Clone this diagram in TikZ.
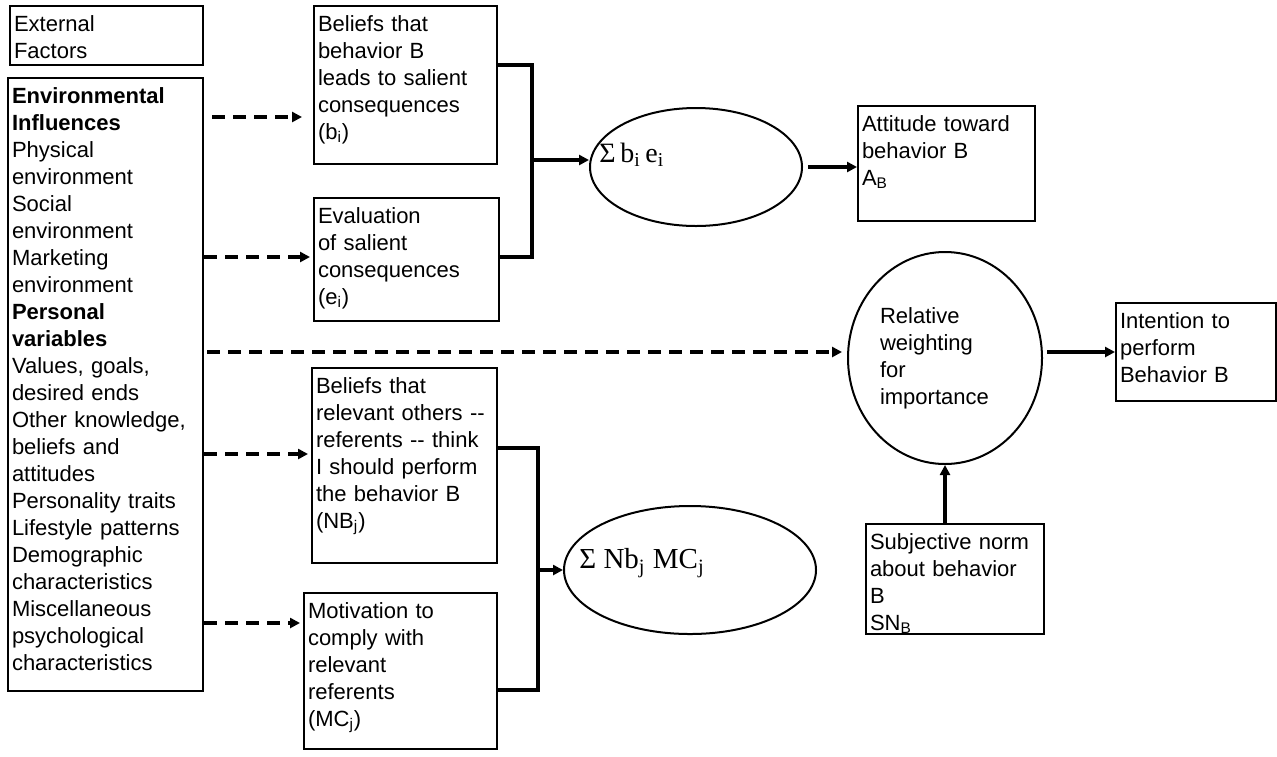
\documentclass[tikz,border=0pt]{standalone}
\usepackage{fontspec}
\setmainfont{Liberation Sans}
\newfontfamily\sumfont{Liberation Serif}
\usetikzlibrary{positioning, arrows.meta, shapes.geometric}

\begin{document}
\begin{tikzpicture}[
    x=0.5pt, y=-0.5pt,
    >={Triangle[length=5pt, width=5pt]},
    font=\fontsize{11}{13.5}\selectfont,
    box/.style={draw, line width=1pt, anchor=north west, align=left,
        inner xsep=2pt, inner ysep=2pt, text height=10.5pt},
    oval/.style={draw, ellipse, line width=1pt, inner sep=0pt},
    sumtext/.style={anchor=west, inner sep=0pt, font=\sumfont\fontsize{14}{16}\selectfont},
    dasharr/.style={->, line width=2pt, dash pattern=on 6.5pt off 4pt},
    arr/.style={->, line width=2pt},
    brace/.style={line width=2.2pt}
]
    \useasboundingbox (0,0) rectangle (1277,756);

    % external factors
    \node[box, text width=92.5pt, text depth=15pt] (ext) at (9,5) {External\\ Factors};
    \node[box, text width=93.5pt, text depth=292pt] (env) at (7,77)
        {\textbf{Environmental}\\ \textbf{Influences}\\ Physical\\ environment\\ Social\\ environment\\
         Marketing\\ environment\\ \textbf{Personal}\\ \textbf{variables}\\ Values, goals,\\ desired ends\\
         Other knowledge,\\ beliefs and\\ attitudes\\ Personality traits\\ Lifestyle patterns\\
         Demographic\\ characteristics\\ Miscellaneous\\ psychological\\ characteristics};

    % beliefs and evaluations
    \node[box, text width=87.5pt, text depth=64.5pt] (bel) at (313,5)
        {Beliefs that\\ behavior B\\ leads to salient\\ consequences\\ (b\textsubscript{i})};
    \node[box, text width=88.5pt, text depth=47pt] (eval) at (313,197)
        {Evaluation\\ of salient\\ consequences\\ (e\textsubscript{i})};
    \node[box, text width=88.5pt, text depth=83pt] (nb) at (311,367)
        {Beliefs that\\ relevant others -{}-\\ referents -{}- think\\ I should perform\\ the behavior B\\ (NB\textsubscript{j})};
    \node[box, text width=92.5pt, text depth=63.5pt] (mot) at (303,592)
        {Motivation to\\ comply with\\ relevant\\ referents\\ (MC\textsubscript{j})};

    % sums
    \node[oval, minimum width=106pt, minimum height=59pt,
        label={[sumtext, xshift=5pt, yshift=6pt]west:Σ\,b\textsubscript{i}\,e\textsubscript{i}}] (sbe) at (696,167) {};
    \node[oval, minimum width=126pt, minimum height=64pt,
        label={[sumtext, xshift=8pt, yshift=3.5pt, font=\sumfont\fontsize{14.5}{16}\selectfont]west:Σ Nb\textsubscript{j} MC\textsubscript{j}}] (snm) at (690,570) {};

    % attitude, norm, intention
    \node[box, text width=84.5pt, text depth=43pt] (att) at (857,105)
        {Attitude toward\\ behavior B\\ A\textsubscript{B}};
    \node[oval, minimum width=97pt, minimum height=106pt, align=left, text width=65pt] (rel) at (945,358)
        {Relative\\ weighting\\ for\\ importance};
    \node[box, text width=76pt, text depth=34.5pt] (int) at (1115,302)
        {Intention to\\ perform\\ Behavior B};
    \node[box, text width=85pt, text depth=40.5pt] (sub) at (865,523)
        {Subjective norm\\ about behavior\\ B\\ SN\textsubscript{B}};

    % dashed influences
    \draw[dasharr, shorten <=4pt, shorten >=5.5pt] (env.east |- 0,117) -- (bel.west |- 0,117);
    \draw[dasharr, shorten >=1.5pt] (env.east |- 0,257) -- (eval.west |- 0,257);
    \draw[dasharr, shorten <=1.5pt, shorten >=2.5pt] (env.east |- 0,352) -- (rel.west |- 0,352);
    \draw[dasharr, shorten >=1.5pt] (env.east |- 0,454) -- (nb.west |- 0,454);
    \draw[dasharr, shorten >=1.5pt] (env.east |- 0,623) -- (mot.west |- 0,623);

    % brackets into the sums
    \coordinate (j1) at (532,160);
    \draw[brace] (bel.east |- 0,65) -| (j1) |- (eval.east |- 0,257);
    \draw[arr] (j1) -- (sbe.west |- j1);
    \coordinate (j2) at (538,570);
    \draw[brace] (nb.east |- 0,448) -| (j2) |- (mot.east |- 0,690);
    \draw[arr] (j2) -- (snm.west);

    \draw[arr, shorten <=2.5pt] (sbe.east) -- (att.west |- sbe.east);
    \draw[arr, shorten <=2pt] (rel.east |- 0,352) -- (int.west |- 0,352);
    \draw[arr] (sub.north -| rel.south) -- (rel.south);
\end{tikzpicture}
\end{document}
